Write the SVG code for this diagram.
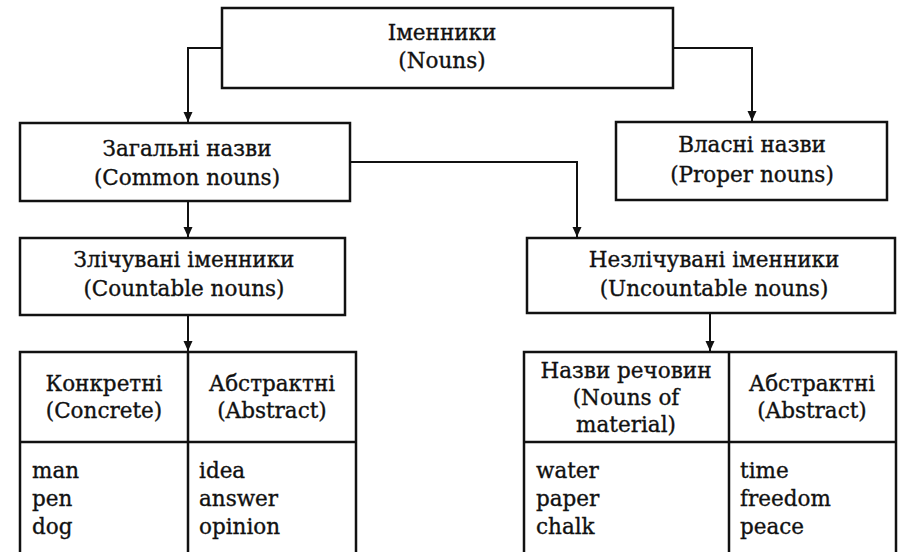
<svg xmlns="http://www.w3.org/2000/svg" width="900" height="552" viewBox="0 0 900 552">
  <defs>
    <style>
      .box { fill: #fff; stroke: #111; stroke-width: 2.5; }
      .rule { fill: none; stroke: #111; stroke-width: 2.5; }
      .wire { fill: none; stroke: #111; stroke-width: 2; }
      text { font-family: "DejaVu Serif", "Liberation Serif", serif; font-size: 21.5px; fill: #111; stroke: #111; stroke-width: 0.35; }
      .c { text-anchor: middle; }
    </style>
    <!-- small filled head, drawn along +x so orient="auto" follows the line -->
    <marker id="arrow" markerWidth="10" markerHeight="10" refX="10" refY="5" orient="auto" markerUnits="userSpaceOnUse" viewBox="0 0 10 10">
      <path d="M0,0.5 L10,5 L0,9.5 Z" fill="#111"/>
    </marker>
  </defs>

  <rect width="900" height="552" fill="#fff"/>

  <!-- connectors -->
  <g id="connectors">
    <path class="wire" d="M222,48 H188 V122" marker-end="url(#arrow)"/>
    <path class="wire" d="M673,48 H752 V121" marker-end="url(#arrow)"/>
    <path class="wire" d="M350,162 H577 V237" marker-end="url(#arrow)"/>
    <path class="wire" d="M188,201 V237" marker-end="url(#arrow)"/>
    <path class="wire" d="M188,315 V351" marker-end="url(#arrow)"/>
    <path class="wire" d="M710,313 V351" marker-end="url(#arrow)"/>
  </g>

  <!-- root -->
  <g id="nouns">
    <rect class="box" x="222" y="8" width="451" height="80"/>
    <text class="c" x="442" y="40">Іменники</text>
    <text class="c" x="442" y="68">(Nouns)</text>
  </g>

  <g id="common">
    <rect class="box" x="20" y="123" width="330" height="78"/>
    <text class="c" x="187" y="156">Загальні назви</text>
    <text class="c" x="187" y="185">(Common nouns)</text>
  </g>

  <g id="proper">
    <rect class="box" x="616" y="122" width="271" height="78"/>
    <text class="c" x="752" y="152">Власні назви</text>
    <text class="c" x="752" y="182">(Proper nouns)</text>
  </g>

  <g id="countable">
    <rect class="box" x="20" y="238" width="325" height="77"/>
    <text class="c" x="184" y="267">Злічувані іменники</text>
    <text class="c" x="184" y="296">(Countable nouns)</text>
  </g>

  <g id="uncountable">
    <rect class="box" x="527" y="238" width="368" height="75"/>
    <text class="c" x="714" y="267">Незлічувані іменники</text>
    <text class="c" x="714" y="296">(Uncountable nouns)</text>
  </g>

  <!-- countable nouns table -->
  <g id="countable-table">
    <path class="rule" d="M20,560 V352 H356 V560 M188,352 V560 M20,442 H356"/>
    <text class="c" x="104" y="391">Конкретні</text>
    <text class="c" x="104" y="418">(Concrete)</text>
    <text class="c" x="272" y="391">Абстрактні</text>
    <text class="c" x="272" y="418">(Abstract)</text>
    <text x="32" y="478">man</text>
    <text x="32" y="506">pen</text>
    <text x="32" y="534">dog</text>
    <text x="199" y="478">idea</text>
    <text x="199" y="506">answer</text>
    <text x="199" y="534">opinion</text>
  </g>

  <!-- uncountable nouns table -->
  <g id="uncountable-table">
    <path class="rule" d="M524,560 V352 H896 V560 M729,352 V560 M524,442 H896"/>
    <text class="c" x="626" y="378">Назви речовин</text>
    <text class="c" x="626" y="405">(Nouns of</text>
    <text class="c" x="626" y="432">material)</text>
    <text class="c" x="812" y="391">Абстрактні</text>
    <text class="c" x="812" y="418">(Abstract)</text>
    <text x="536" y="478">water</text>
    <text x="536" y="506">paper</text>
    <text x="536" y="534">chalk</text>
    <text x="740" y="478">time</text>
    <text x="740" y="506">freedom</text>
    <text x="740" y="534">peace</text>
  </g>
</svg>
